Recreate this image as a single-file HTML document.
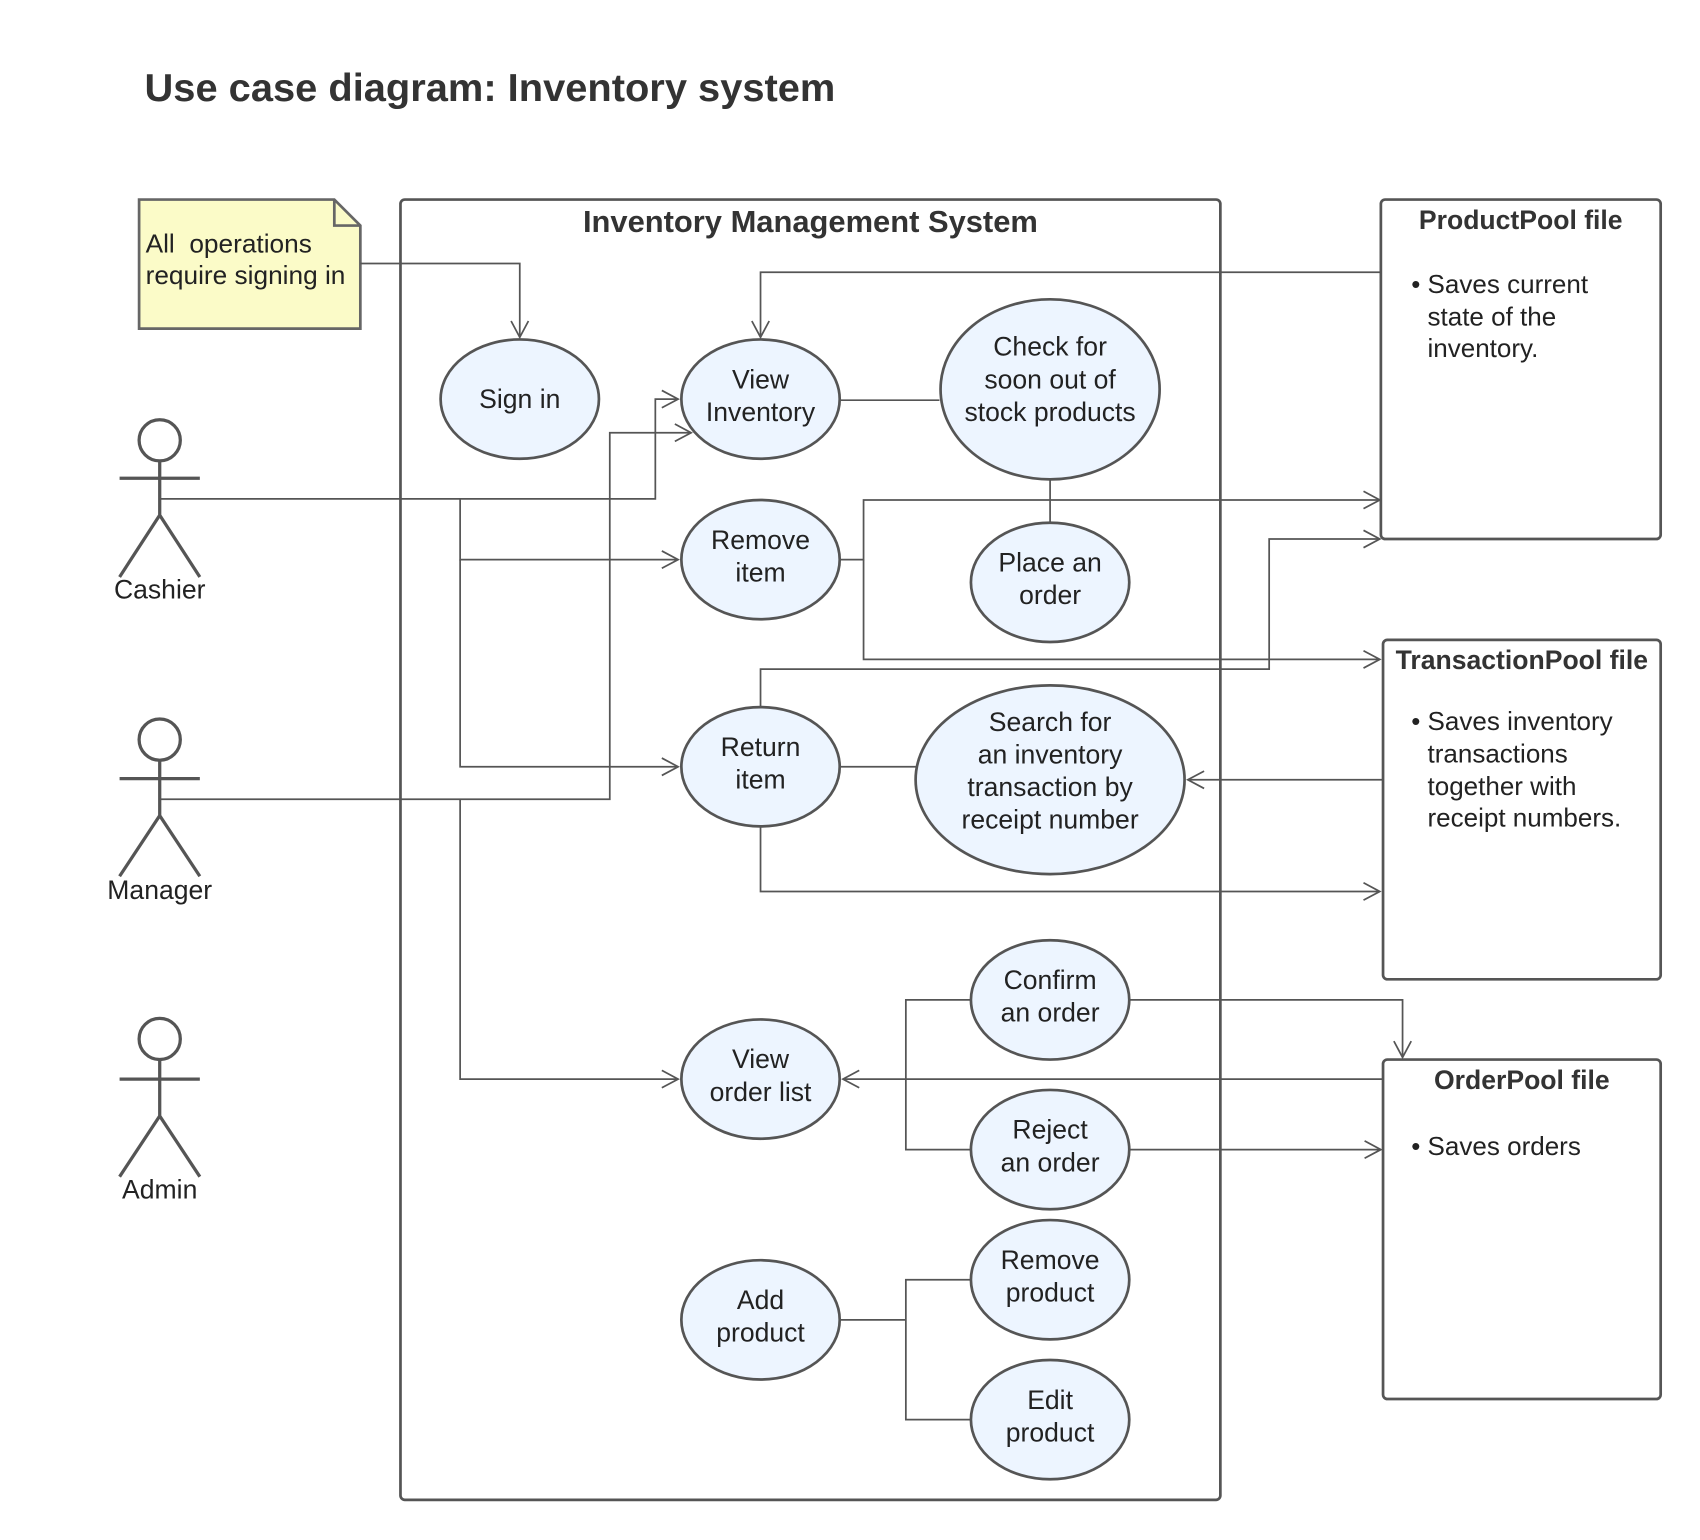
<!DOCTYPE html>
<html><head><meta charset="utf-8"><style>
html,body{margin:0;padding:0;background:#fff;}
svg{display:block;}
text{font-family:"Liberation Sans",Arial,sans-serif;fill:#222;}
.e{fill:#EDF5FF;stroke:#555;stroke-width:2.5;}
.c{fill:none;stroke:#555;stroke-width:1.6;}
.b{fill:#fff;stroke:#555;stroke-width:2.5;}
.u text,.u{font-size:24.5px;text-anchor:middle;}
.f{font-size:24px;}
</style></head><body>
<svg width="1700" height="1540" viewBox="0 0 1567 1420" xmlns="http://www.w3.org/2000/svg">
<defs><marker id="a" markerWidth="18" markerHeight="18" refX="16" refY="9" orient="auto" markerUnits="userSpaceOnUse"><path d="M1,1 L16,9 L1,17" fill="none" stroke="#555" stroke-width="1.6"/></marker></defs>

<text x="133" y="93" font-size="36" font-weight="bold" textLength="637" lengthAdjust="spacingAndGlyphs" style="fill:#333">Use case diagram: Inventory system</text>

<path d="M128,184 H308 L332,208 V303 H128 Z" fill="#FBFBC8" stroke="#666" stroke-width="2.5"/>
<path d="M308,184 V208 H332" fill="none" stroke="#666" stroke-width="2.5"/>
<text x="134" y="233" font-size="24.2" xml:space="preserve">All  operations</text>
<text x="134" y="262" font-size="24.2">require signing in</text>

<rect x="369" y="184" width="756" height="1199" rx="4" class="b"/>
<text x="747" y="214" font-size="28.5" font-weight="bold" text-anchor="middle" style="fill:#333">Inventory Management System</text>

<rect x="1273" y="184" width="258" height="313" rx="4" class="b"/>
<text x="1402" y="211" font-size="24.5" font-weight="bold" text-anchor="middle" style="fill:#333">ProductPool file</text>
<text class="f" x="1301" y="270">• Saves current</text>
<text class="f" x="1316" y="300">state of the</text>
<text class="f" x="1316" y="329">inventory.</text>

<rect x="1275" y="590" width="256" height="313" rx="4" class="b"/>
<text x="1403" y="617" font-size="24.5" font-weight="bold" text-anchor="middle" style="fill:#333">TransactionPool file</text>
<text class="f" x="1301" y="673">• Saves inventory</text>
<text class="f" x="1316" y="703">transactions</text>
<text class="f" x="1316" y="733">together with</text>
<text class="f" x="1316" y="762">receipt numbers.</text>

<rect x="1275" y="977" width="256" height="313" rx="4" class="b"/>
<text x="1403" y="1004" font-size="24.5" font-weight="bold" text-anchor="middle" style="fill:#333">OrderPool file</text>
<text class="f" x="1301" y="1065">• Saves orders</text>

<g fill="none" stroke="#555" stroke-width="3">
<circle cx="147" cy="406" r="19"/><path d="M147,425 V475 M110,441 H184 M110,532 L147,475 L184,532"/>
<circle cx="147" cy="682" r="19"/><path d="M147,701 V752 M110,718 H184 M110,808 L147,752 L184,808"/>
<circle cx="147" cy="958" r="19"/><path d="M147,977 V1029 M110,995 H184 M110,1085 L147,1029 L184,1085"/>
</g>
<g class="u" style="font-size:24px"><text x="147" y="552">Cashier</text><text x="147" y="829">Manager</text><text x="147" y="1105">Admin</text></g>

<g class="c">
<path d="M332,243 H479 V311" marker-end="url(#a)"/>
<path d="M147,460 H604 V368 H625" marker-end="url(#a)"/>
<path d="M424,460 V516 H625" marker-end="url(#a)"/>
<path d="M424,516 V707 H625" marker-end="url(#a)"/>
<path d="M147,737 H562 V399 H637" marker-end="url(#a)"/>
<path d="M424,737 V995 H625" marker-end="url(#a)"/>
<path d="M1273,251 H701 V311" marker-end="url(#a)"/>
<path d="M775,369 H866"/>
<path d="M968,442 V482"/>
<path d="M775,516 H796 V461 H1272" marker-end="url(#a)"/>
<path d="M796,516 V608 H1272" marker-end="url(#a)"/>
<path d="M701,652 V617 H1170 V497 H1272" marker-end="url(#a)"/>
<path d="M701,762 V822 H1272" marker-end="url(#a)"/>
<path d="M775,707 H844"/>
<path d="M1275,719 H1095" marker-end="url(#a)"/>
<path d="M1275,995 H777" marker-end="url(#a)"/>
<path d="M895,922 H835 V1060 H895"/>
<path d="M1042,922 H1293 V975" marker-end="url(#a)"/>
<path d="M1042,1060 H1273" marker-end="url(#a)"/>
<path d="M775,1217 H835 M895,1180 H835 V1309 H895"/>
</g>

<g>
<ellipse class="e" cx="479" cy="368" rx="73" ry="55"/>
<ellipse class="e" cx="701" cy="368" rx="73" ry="55"/>
<ellipse class="e" cx="968" cy="359" rx="101" ry="83"/>
<ellipse class="e" cx="701" cy="516" rx="73" ry="55"/>
<ellipse class="e" cx="968" cy="537" rx="73" ry="55"/>
<ellipse class="e" cx="701" cy="707" rx="73" ry="55"/>
<ellipse class="e" cx="968" cy="719" rx="124" ry="87"/>
<ellipse class="e" cx="701" cy="995" rx="73" ry="55"/>
<ellipse class="e" cx="968" cy="922" rx="73" ry="55"/>
<ellipse class="e" cx="968" cy="1060" rx="73" ry="55"/>
<ellipse class="e" cx="701" cy="1217" rx="73" ry="55"/>
<ellipse class="e" cx="968" cy="1180" rx="73" ry="55"/>
<ellipse class="e" cx="968" cy="1309" rx="73" ry="55"/>
</g>
<g class="u">
<text x="479" y="376">Sign in</text>
<text x="701" y="358">View</text><text x="701" y="388">Inventory</text>
<text x="968" y="328">Check for</text><text x="968" y="358">soon out of</text><text x="968" y="388">stock products</text>
<text x="701" y="506">Remove</text><text x="701" y="536">item</text>
<text x="968" y="527">Place an</text><text x="968" y="557">order</text>
<text x="701" y="697">Return</text><text x="701" y="727">item</text>
<text x="968" y="674">Search for</text><text x="968" y="704">an inventory</text><text x="968" y="734">transaction by</text><text x="968" y="764">receipt number</text>
<text x="701" y="985">View</text><text x="701" y="1015">order list</text>
<text x="968" y="912">Confirm</text><text x="968" y="942">an order</text>
<text x="968" y="1050">Reject</text><text x="968" y="1080">an order</text>
<text x="701" y="1207">Add</text><text x="701" y="1237">product</text>
<text x="968" y="1170">Remove</text><text x="968" y="1200">product</text>
<text x="968" y="1299">Edit</text><text x="968" y="1329">product</text>
</g>
</svg>
</body></html>
